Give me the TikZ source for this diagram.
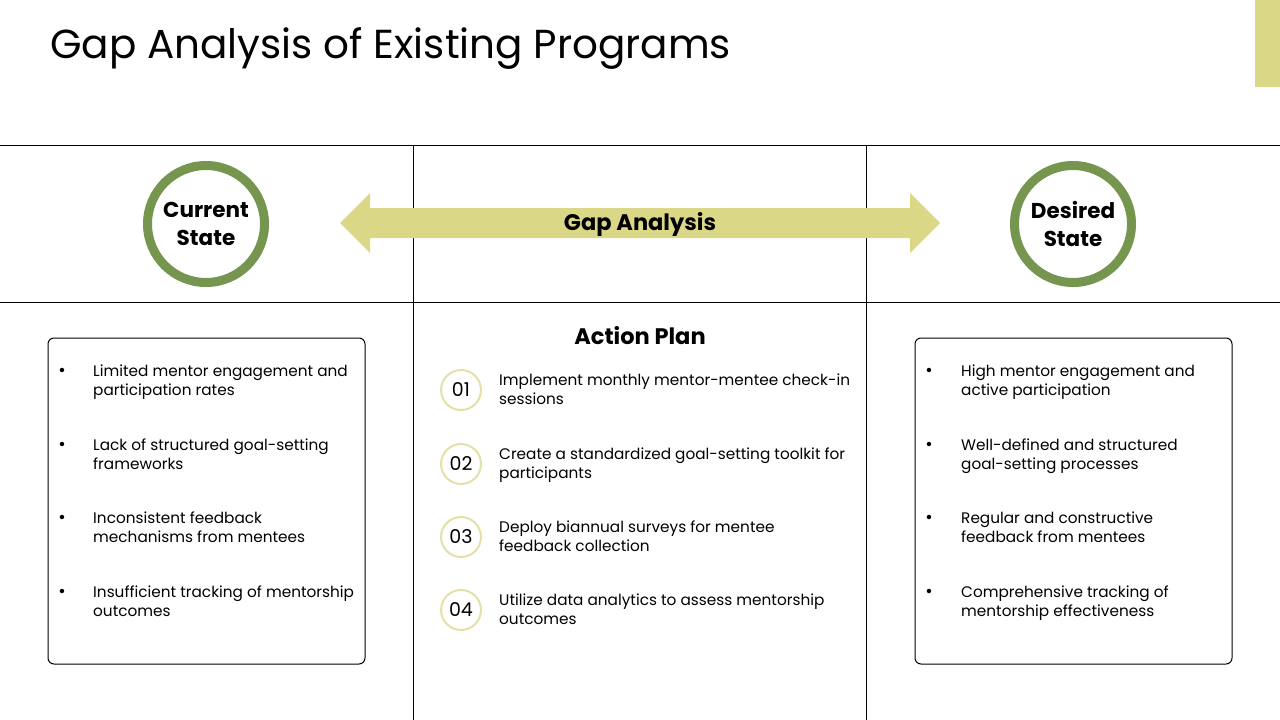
\documentclass[tikz,border=0pt]{standalone}
\usepackage{fontspec}
\setmainfont{Poppins}
\definecolor{ringgreen}{HTML}{76964F}
\definecolor{paleyellow}{HTML}{DAD886}
\definecolor{numring}{HTML}{E3E0A8}
\tikzset{
  x=1pt, y=-1pt,
  frame/.style={line width=1pt, black},
  statering/.style={circle, draw=ringgreen, line width=9pt, minimum size=117pt, inner sep=0pt, align=center, font=\fontsize{21.5}{28}\selectfont\bfseries},
  listbox/.style={draw=black, line width=1pt, rounded corners=6pt},
  bullettext/.style={anchor=north west, align=left, font=\fontsize{15.3}{19}\selectfont, inner sep=0pt},
  bulletdot/.style={anchor=center, font=\fontsize{18}{19}\selectfont, inner sep=0pt},
  numcircle/.style={circle, draw=numring, line width=2pt, minimum size=40pt, inner sep=0pt, font=\fontsize{19}{22}\selectfont},
  heading/.style={font=\fontsize{22.5}{27}\selectfont\bfseries}
}
\begin{document}
\begin{tikzpicture}
\useasboundingbox (0,0) rectangle (1280,720);
% title
\node[anchor=west, inner sep=0pt, font=\fontsize{40.5}{46}\selectfont] (title) at (50,48) {Gap Analysis of Existing Programs};
\fill[paleyellow] (1255,0) rectangle (1280,87);
% grid lines
\coordinate (l1a) at (0,145); \coordinate (l1b) at (1280,145);
\coordinate (l2a) at (0,302); \coordinate (l2b) at (1280,302);
\coordinate (v1a) at (413,145); \coordinate (v1b) at (413,720);
\coordinate (v2a) at (866,145); \coordinate (v2b) at (866,720);
\draw[frame] (l1a) -- (l1b);
\draw[frame] (l2a) -- (l2b);
\draw[frame] (v1a) -- (v1b);
\draw[frame] (v2a) -- (v2b);
% arrow
\fill[paleyellow] (340,223) -- (370,193) -- (370,208) -- (910,208) -- (910,193) -- (940,223) -- (910,253) -- (910,238) -- (370,238) -- (370,253) -- cycle;
\node[heading] (gap) at (640,224) {Gap Analysis};
% state circles
\node[statering] (cur) at (206,224) {Current\\State};
\node[statering] (des) at (1073,224) {Desired\\State};
% boxes
\draw[listbox] (48,338) rectangle (365,664);
\draw[listbox] (915,338) rectangle (1232,664);
% left bullets
\foreach \y/\t in {365/{Limited mentor engagement and\\participation rates},439/{Lack of structured goal-setting\\frameworks},512/{Inconsistent feedback\\mechanisms from mentees},586/{Insufficient tracking of mentorship\\outcomes}}{
  \node[bulletdot] at (62,\y+7) {•};
  \node[bullettext] at (93,\y) {\t};
}
% right bullets
\foreach \y/\t in {365/{High mentor engagement and\\active participation},439/{Well-defined and structured\\goal-setting processes},512/{Regular and constructive\\feedback from mentees},586/{Comprehensive tracking of\\mentorship effectiveness}}{
  \node[bulletdot] at (929,\y+7) {•};
  \node[bullettext] at (961,\y) {\t};
}
% action plan
\node[heading] (ap) at (640,336) {Action Plan};
\node[numcircle] (n1) at (461,390) {01};
\node[numcircle] (n2) at (461,464) {02};
\node[numcircle] (n3) at (461,537) {03};
\node[numcircle] (n4) at (461,610) {04};
\node[bullettext] (t1) at (499,374) {Implement monthly mentor-mentee check-in\\sessions};
\node[bullettext] (t2) at (499,448) {Create a standardized goal-setting toolkit for\\participants};
\node[bullettext] (t3) at (499,521) {Deploy biannual surveys for mentee\\feedback collection};
\node[bullettext] (t4) at (499,594) {Utilize data analytics to assess mentorship\\outcomes};
\end{tikzpicture}
\end{document}
